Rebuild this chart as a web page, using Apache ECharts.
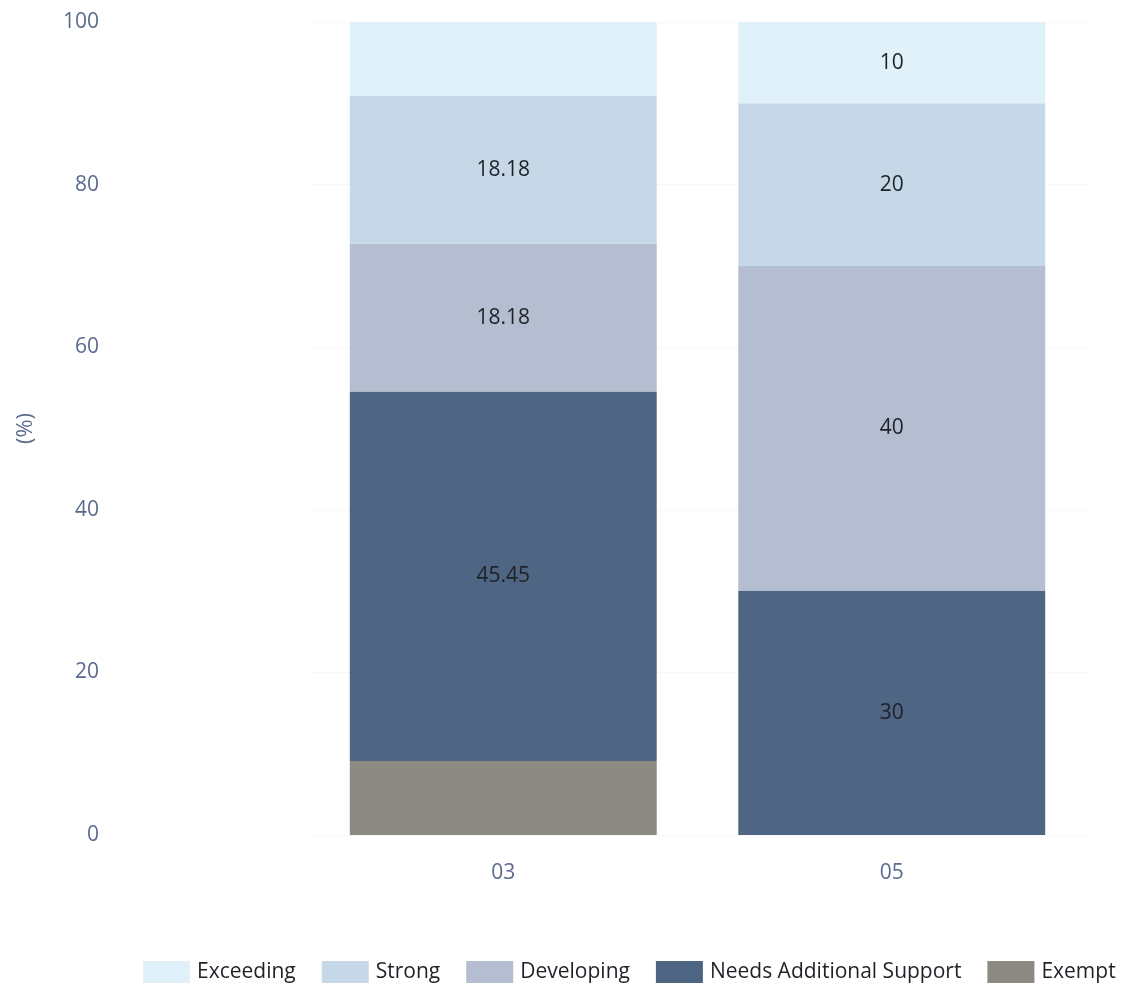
<!DOCTYPE html>
<html>
<head>
<meta charset="utf-8">
<script src="https://cdn.jsdelivr.net/npm/echarts@6/dist/echarts.min.js"></script>
<style>
  html, body { margin: 0; padding: 0; background: #ffffff; }
  #chart { width: 1126px; height: 991px; }
</style>
</head>
<body>
<div id="chart"></div>
<script>
// Grade groups on the x axis
const categories = ['03', '05'];
// Share of students (%) in each performance level, per grade group
const exceeding = [9.09, 10];
const strong = [18.18, 20];
const developing = [18.18, 40];
const needsSupport = [45.45, 30];
const exempt = [9.09, 0];
// Value-axis ticks
const yTicks = [0, 20, 40, 60, 80, 100];

const axisColor = '#5b6a8e';
const fontFamily = '"Open Sans", "Noto Sans", sans-serif';

// Segments under 10% are left unlabelled
const labelCfg = {
  show: true,
  position: 'inside',
  color: '#1e2227',
  fontSize: 21,
  fontFamily: fontFamily,
  formatter: p => (p.value >= 10 ? String(p.value) : '')
};

function series(name, data, color) {
  return {
    name: name,
    type: 'bar',
    stack: 'total',
    data: data,
    barWidth: '79%',
    itemStyle: { color: color },
    label: labelCfg,
    emphasis: { disabled: true }
  };
}

const chart = echarts.init(document.getElementById('chart'), null, { renderer: 'canvas' });
chart.setOption({
  animation: false,
  backgroundColor: '#ffffff',
  grid: { left: 309, right: 40, top: 22, bottom: 156, containLabel: false },
  legend: {
    data: ['Exceeding', 'Strong', 'Developing', 'Needs Additional Support', 'Exempt'],
    left: 143,
    top: 961,
    width: 983,
    padding: 0,
    itemWidth: 47,
    itemHeight: 22,
    itemGap: 26,
    icon: 'rect',
    textStyle: { color: '#1e2227', fontSize: 21, fontFamily: fontFamily, padding: [0, 0, 0, 2] }
  },
  xAxis: {
    type: 'category',
    data: categories,
    axisLine: { show: false },
    axisTick: { show: false },
    axisLabel: { color: axisColor, fontSize: 21, fontFamily: fontFamily, margin: 28 }
  },
  yAxis: {
    type: 'value',
    min: yTicks[0],
    max: yTicks[yTicks.length - 1],
    interval: yTicks[1] - yTicks[0],
    name: '(%)',
    nameLocation: 'middle',
    nameGap: 272,
    nameRotate: 90,
    nameTextStyle: { color: axisColor, fontSize: 22, fontFamily: fontFamily },
    axisLine: { show: false },
    axisTick: { show: false },
    axisLabel: { color: axisColor, fontSize: 21, fontFamily: fontFamily, margin: 210 },
    splitLine: { show: true, lineStyle: { color: '#f6f7f9', width: 1 } }
  },
  series: [
    series('Exempt', exempt, '#8d8983'),
    series('Needs Additional Support', needsSupport, '#4e6583'),
    series('Developing', developing, '#b5bdd0'),
    series('Strong', strong, '#c6d8e8'),
    series('Exceeding', exceeding, '#e0f1fa')
  ]
});
</script>
</body>
</html>
